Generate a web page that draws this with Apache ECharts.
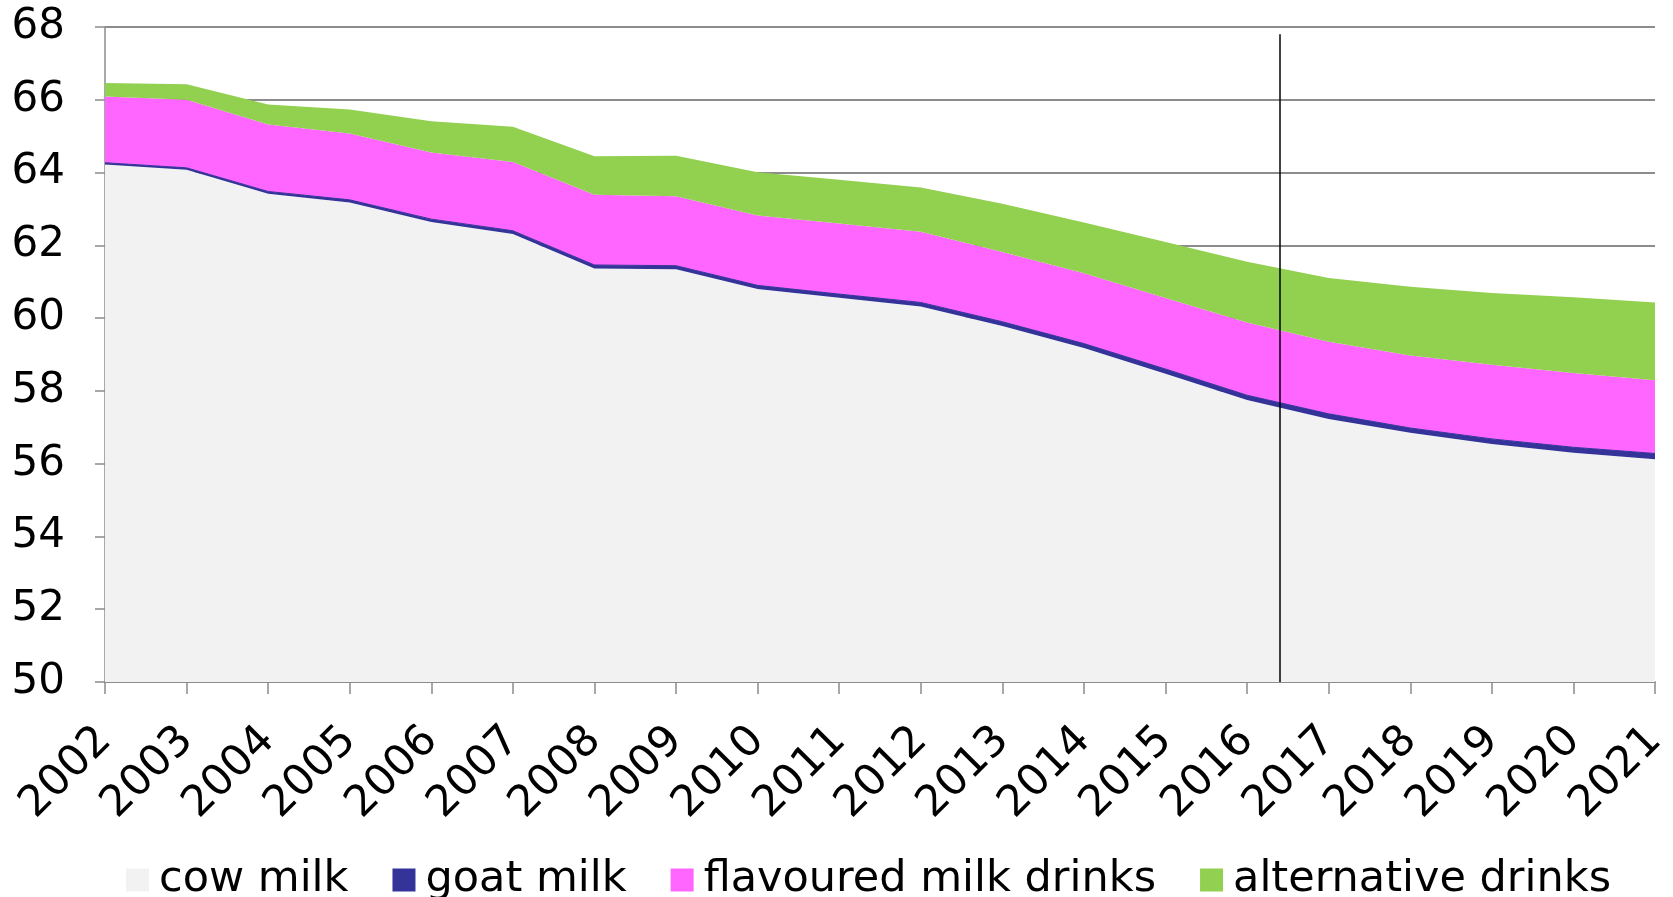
<!DOCTYPE html>
<html>
<head>
<meta charset="utf-8">
<script src="https://cdn.jsdelivr.net/npm/echarts@6/dist/echarts.min.js"></script>
<style>
  html, body { margin: 0; padding: 0; background: #fff; }
  #chart { width: 1673px; height: 897px; }
</style>
</head>
<body>
<div id="chart"></div>
<script>
const years = ['2002', '2003', '2004', '2005', '2006', '2007', '2008', '2009', '2010', '2011',
  '2012', '2013', '2014', '2015', '2016', '2017', '2018', '2019', '2020', '2021']

// stacked components
const cowMilk = [64.22, 64.08, 63.42, 63.18, 62.64, 62.31, 61.36, 61.34, 60.80, 60.56,
  60.32, 59.78, 59.18, 58.47, 57.75, 57.23, 56.85, 56.54, 56.30, 56.12]
const goatMilk = [0.05, 0.05, 0.06, 0.07, 0.08, 0.09, 0.10, 0.10, 0.10, 0.10,
  0.11, 0.12, 0.12, 0.13, 0.13, 0.14, 0.13, 0.14, 0.15, 0.16]
const flavouredMilk = [1.82, 1.87, 1.84, 1.82, 1.83, 1.89, 1.93, 1.91, 1.92, 1.94,
  1.94, 1.92, 1.93, 1.95, 2.00, 1.98, 1.99, 2.04, 2.04, 2.01]
const altDrinks = [0.37, 0.43, 0.55, 0.66, 0.86, 0.97, 1.06, 1.11, 1.19, 1.20,
  1.22, 1.32, 1.40, 1.54, 1.67, 1.75, 1.89, 1.97, 2.08, 2.14]

// vertical marker between 2016 and 2017
const markerYear = 2016.4
const markerTop = 67.8

const FONT = 'DejaVu Sans'

const makeArea = (name, data, color, line) => ({
  name,
  type: 'line',
  stack: 'total',
  data,
  symbol: 'none',
  lineStyle: { width: line || 0, color },
  areaStyle: { color, opacity: 1 },
  itemStyle: { color },
  silent: true
})

const chart = echarts.init(document.getElementById('chart'))

chart.setOption({
  animation: false,
  backgroundColor: '#fff',
  grid: { left: 105, right: 18, top: 27, bottom: 215 },
  legend: {
    data: ['cow milk', 'goat milk', 'flavoured milk drinks', 'alternative drinks'],
    left: 121,
    top: 852,
    icon: 'rect',
    itemWidth: 23,
    itemHeight: 23,
    itemGap: 44,
    textStyle: { fontFamily: FONT, fontSize: 43, color: '#000', lineHeight: 46, padding: [0, 0, 0, 5] }
  },
  xAxis: [
    {
      type: 'category',
      data: years,
      boundaryGap: false,
      axisLine: { lineStyle: { color: '#8c8c8c', width: 2 } },
      axisTick: { alignWithLabel: true, length: 12, lineStyle: { color: '#8c8c8c', width: 1.5 } },
      axisLabel: { rotate: 45, margin: 52, fontFamily: FONT, fontSize: 43, color: '#000' },
      splitLine: { show: false }
    },
    { type: 'value', min: 2002, max: 2021, show: false }
  ],
  yAxis: {
    type: 'value',
    min: 50,
    max: 68,
    interval: 2,
    axisLine: { show: true, lineStyle: { color: '#8c8c8c', width: 1.5 } },
    axisTick: { show: true, length: 10, lineStyle: { color: '#8c8c8c', width: 1.5 } },
    axisLabel: { margin: 40, fontFamily: FONT, fontSize: 42, color: '#000' },
    splitLine: { lineStyle: { color: '#8c8c8c', width: 2 } }
  },
  series: [
    makeArea('cow milk', cowMilk, '#f2f2f2'),
    makeArea('goat milk', goatMilk, '#333399', 1),
    makeArea('flavoured milk drinks', flavouredMilk, '#ff66ff'),
    makeArea('alternative drinks', altDrinks, '#92d050'),
    {
      type: 'lines',
      coordinateSystem: 'cartesian2d',
      xAxisIndex: 1,
      silent: true,
      z: 10,
      lineStyle: { color: '#000', width: 1.5, opacity: 1 },
      data: [{ coords: [[markerYear, markerTop], [markerYear, 50]] }]
    }
  ]
})
</script>
</body>
</html>
